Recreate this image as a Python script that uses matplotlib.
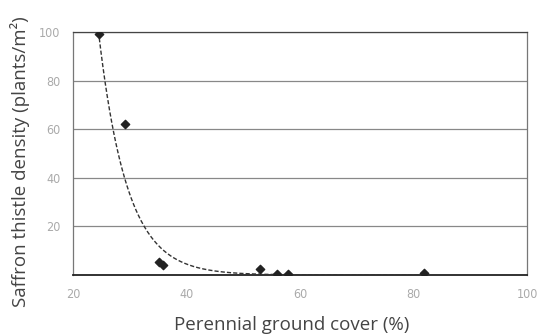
import numpy as np
import matplotlib
matplotlib.use("Agg")
import matplotlib.pyplot as plt

# Observed data points
cover = [24.5, 29.2, 35.2, 35.9, 53.0, 56.0, 57.9, 81.9]
density = [99.0, 62.0, 5.3, 4.1, 2.5, 0.3, 0.3, 0.8]

# Fitted exponential trend: y = A * exp(-k * (x - x0))
fit_A = 100.0
fit_k = 0.2
fit_x0 = 24.5
fit_range = [24.5, 82.0]

x_ticks = [20, 40, 60, 80, 100]
y_ticks = [20, 40, 60, 80, 100]

fig = plt.figure(figsize=(5.38, 3.36), dpi=100)
ax = fig.add_axes([73/538, 1 - 275/336, (527-73)/538, (275-32)/336])

xs = np.linspace(fit_range[0], fit_range[1], 300)
ys = fit_A * np.exp(-fit_k * (xs - fit_x0))
ax.plot(xs, ys, ls=(0, (3, 1.5)), color="#333333", lw=1.0, zorder=3)
ax.scatter(cover, density, marker="D", s=18, color="#222222", zorder=4)

ax.set_xlim(20, 100)
ax.set_ylim(0, 100)
ax.set_xticks(x_ticks)
ax.set_yticks(y_ticks)
ax.grid(axis="y", color="#888888", lw=0.9)
ax.set_axisbelow(True)
for s in ["left", "right", "top"]:
    ax.spines[s].set_color("#777777")
    ax.spines[s].set_linewidth(0.9)
ax.spines["top"].set_color("#444444")
ax.spines["bottom"].set_color("#222222")
ax.spines["bottom"].set_linewidth(1.3)
ax.tick_params(length=0, labelsize=9, labelcolor="#aaaaaa", pad=9)
for t in ax.get_xticklabels() + ax.get_yticklabels():
    t.set_family("DejaVu Sans")
    t.set_fontstretch("condensed")

ax.set_xlabel("Perennial ground cover (%)", family="Open Sans", fontsize=13.5,
              color="#444444")
ax.set_ylabel("Saffron thistle density (plants/m²)", family="Open Sans",
              fontsize=13.5, color="#444444")
# label centres in axes coordinates
ax.xaxis.set_label_coords((292 - 73) / (527 - 73), -(325 - 275) / (275 - 32))
ax.yaxis.set_label_coords(-(73 - 20) / (527 - 73), (275 - 162) / (275 - 32))
ax.xaxis.label.set_va("center")
ax.yaxis.label.set_va("center")

fig.savefig("out.png", dpi=100)
